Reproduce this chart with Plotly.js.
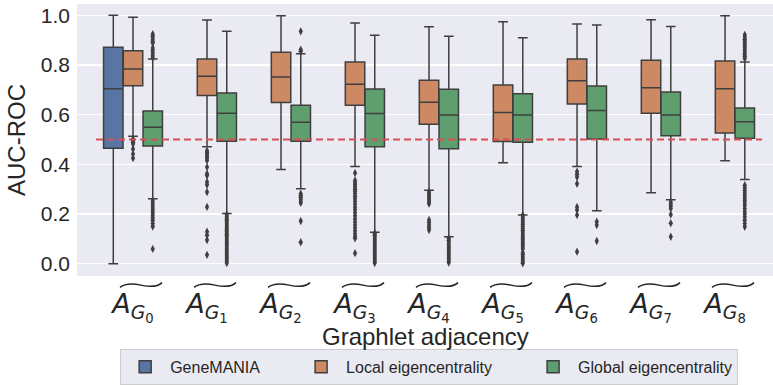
<!DOCTYPE html>
<html><head><meta charset="utf-8">
<script src="https://cdn.plot.ly/plotly-3.0.1.min.js"></script>
<style>body{margin:0;background:#fff;}</style>
</head><body><div id="chart" style="width:773px;height:385px;"></div>
<script>
// ---------------- data ----------------
const categoryIndex = [0, 1, 2, 3, 4, 5, 6, 7, 8];
const tickLabels = [
  '<i>A</i><sub><i>G</i><sub>0</sub></sub>',
  '<i>A</i><sub><i>G</i><sub>1</sub></sub>',
  '<i>A</i><sub><i>G</i><sub>2</sub></sub>',
  '<i>A</i><sub><i>G</i><sub>3</sub></sub>',
  '<i>A</i><sub><i>G</i><sub>4</sub></sub>',
  '<i>A</i><sub><i>G</i><sub>5</sub></sub>',
  '<i>A</i><sub><i>G</i><sub>6</sub></sub>',
  '<i>A</i><sub><i>G</i><sub>7</sub></sub>',
  '<i>A</i><sub><i>G</i><sub>8</sub></sub>'
];
const xTitle = 'Graphlet adjacency';
const yTitle = 'AUC-ROC';
const hueNames = ['GeneMANIA', 'Local eigencentrality', 'Global eigencentrality'];
const baselineAUC = 0.5;

// GeneMANIA (only category 0)
const geneCats = [0];
const geneQ1  = [0.465];
const geneMed = [0.704];
const geneQ3  = [0.871];
const geneLo  = [0.0];
const geneHi  = [1.0];
const geneOut = [[]];

// Local eigencentrality
const localQ1  = [0.716, 0.677, 0.649, 0.638, 0.561, 0.492, 0.643, 0.606, 0.526];
const localMed = [0.784, 0.754, 0.751, 0.722, 0.650, 0.609, 0.736, 0.708, 0.704];
const localQ3  = [0.857, 0.824, 0.851, 0.812, 0.738, 0.719, 0.824, 0.819, 0.816];
const localLo  = [0.513, 0.471, 0.379, 0.391, 0.296, 0.406, 0.391, 0.286, 0.415];
const localHi  = [0.992, 0.981, 0.998, 0.969, 0.953, 0.974, 0.965, 0.982, 0.998];
const localOut = [
  [0.502, 0.495, 0.489, 0.482, 0.462, 0.442, 0.425],
  [0.455, 0.448, 0.440, 0.432, 0.425, 0.416, 0.389, 0.362, 0.355, 0.329, 0.318, 0.289, 0.229, 0.129, 0.115, 0.096, 0.036],
  [],
  [0.365, 0.335, 0.326, 0.318, 0.309, 0.300, 0.291, 0.282, 0.272, 0.262, 0.251, 0.240, 0.228, 0.217, 0.205, 0.193, 0.180, 0.168, 0.156, 0.145, 0.133, 0.121, 0.110, 0.103, 0.043],
  [0.289, 0.281, 0.273, 0.265, 0.257, 0.249, 0.242, 0.176, 0.166, 0.156, 0.146, 0.136],
  [],
  [0.371, 0.360, 0.349, 0.322, 0.229, 0.216, 0.196, 0.049],
  [],
  []
];

// Global eigencentrality
const globalQ1  = [0.474, 0.493, 0.493, 0.471, 0.463, 0.489, 0.502, 0.515, 0.505];
const globalMed = [0.549, 0.606, 0.569, 0.605, 0.599, 0.599, 0.617, 0.599, 0.571];
const globalQ3  = [0.615, 0.687, 0.638, 0.703, 0.702, 0.684, 0.715, 0.691, 0.627];
const globalLo  = [0.262, 0.202, 0.302, 0.127, 0.109, 0.196, 0.213, 0.258, 0.339];
const globalHi  = [0.824, 0.935, 0.845, 0.919, 0.915, 0.909, 0.961, 0.955, 0.812];
const globalOut = [
  [0.924, 0.915, 0.905, 0.895, 0.888, 0.868, 0.859, 0.848, 0.837, 0.828, 0.255, 0.245, 0.235, 0.225, 0.215, 0.205, 0.195, 0.185, 0.175, 0.162, 0.150, 0.060],
  [0.198, 0.190, 0.182, 0.175, 0.168, 0.160, 0.152, 0.145, 0.138, 0.130, 0.122, 0.115, 0.108, 0.100, 0.092, 0.085, 0.078, 0.070, 0.062, 0.055, 0.048, 0.040, 0.032, 0.025, 0.018, 0.010, 0.003],
  [0.935, 0.861, 0.855, 0.282, 0.275, 0.268, 0.260, 0.252, 0.245, 0.172, 0.087],
  [0.123, 0.115, 0.108, 0.100, 0.092, 0.085, 0.077, 0.070, 0.062, 0.055, 0.047, 0.040, 0.032, 0.025, 0.017, 0.010, 0.003],
  [0.103, 0.095, 0.088, 0.080, 0.072, 0.065, 0.057, 0.050, 0.042, 0.035, 0.027, 0.020, 0.012, 0.005],
  [0.196, 0.188, 0.180, 0.172, 0.165, 0.158, 0.150, 0.142, 0.135, 0.128, 0.120, 0.112, 0.105, 0.098, 0.090, 0.082, 0.075, 0.068, 0.060, 0.045, 0.038, 0.030, 0.022, 0.015, 0.008, 0.002],
  [0.169, 0.156, 0.092],
  [0.249, 0.240, 0.232, 0.222, 0.198, 0.163, 0.109],
  [0.921, 0.912, 0.903, 0.895, 0.886, 0.878, 0.869, 0.860, 0.852, 0.843, 0.835, 0.826, 0.316, 0.305, 0.295, 0.285, 0.275, 0.265, 0.255, 0.245, 0.235, 0.222, 0.210, 0.200, 0.188, 0.175, 0.162, 0.149]
];

// ---------------- style ----------------
const hueColors = ['#5875a4', '#cc8963', '#5f9e6e'];
const edgeColor = '#3f3f3f';
const slot = 0.8 / 3;
const hueOffset = [-slot, 0, slot];
const xRange = [-0.757, 8.648];
const yRange = [-0.049, 1.045];
const legendPad = '\u00a0\u00a0\u00a0\u00a0\u00a0\u00a0\u00a0';

const groups = [
  {cats: geneCats, q1: geneQ1, med: geneMed, q3: geneQ3, lo: geneLo, hi: geneHi, out: geneOut},
  {cats: categoryIndex, q1: localQ1, med: localMed, q3: localQ3, lo: localLo, hi: localHi, out: localOut},
  {cats: categoryIndex, q1: globalQ1, med: globalMed, q3: globalQ3, lo: globalLo, hi: globalHi, out: globalOut}
];

const traces = [];
groups.forEach((g, h) => {
  const pos = g.cats.map(c => c + hueOffset[h]);
  traces.push({
    type: 'box', name: hueNames[h] + (h < 2 ? legendPad : ''), legendgroup: hueNames[h],
    x: pos, q1: g.q1, median: g.med, q3: g.q3, lowerfence: g.lo, upperfence: g.hi,
    width: slot * 0.985, whiskerwidth: 0.5, boxpoints: false,
    fillcolor: hueColors[h], line: {color: edgeColor, width: 1.5},
    hoverinfo: 'skip'
  });
  const ox = [], oy = [];
  g.out.forEach((vals, k) => vals.forEach(v => { ox.push(pos[k]); oy.push(v); }));
  traces.push({
    type: 'scatter', mode: 'markers', x: ox, y: oy, showlegend: false,
    legendgroup: hueNames[h],
    marker: {symbol: 'diamond-tall', size: 6, color: edgeColor, line: {width: 0}},
    hoverinfo: 'skip'
  });
});

// tilde accents over tick labels (paper coordinates derived from category positions)
const toPaperX = x => (x - xRange[0]) / (xRange[1] - xRange[0]);
const plotH = 274;
const toPaperY = px => (278 - px) / plotH;
const shapes = [{
  type: 'line', xref: 'x', yref: 'y', x0: -0.5, x1: 8.5, y0: baselineAUC, y1: baselineAUC,
  line: {color: '#d65055', width: 1.8, dash: '7px,4px'}, layer: 'above'
}];
categoryIndex.forEach(c => {
  const cx = c + 0.108, hw = 0.284;
  const L = toPaperX(cx - hw), R = toPaperX(cx + hw), w = R - L;
  const p = (fx, py) => (L + fx * w).toFixed(5) + ',' + toPaperY(py).toFixed(5);
  shapes.push({
    type: 'path', xref: 'paper', yref: 'paper',
    path: 'M' + p(0, 289.5) + ' C' + p(0.12, 285.5) + ' ' + p(0.3, 285.3) + ' ' + p(0.5, 287.2) +
          ' S' + p(0.88, 289.5) + ' ' + p(1, 284.7),
    line: {color: '#262626', width: 1.5}
  });
});

const layout = {
  width: 773, height: 385,
  margin: {l: 77, r: 0, t: 4, b: 107},
  paper_bgcolor: '#ffffff', plot_bgcolor: '#eaeaf2',
  showlegend: true, boxmode: 'overlay',
  font: {family: 'Liberation Sans, Arial, sans-serif', color: '#262626'},
  xaxis: {
    range: xRange, tickmode: 'array', tickvals: categoryIndex, ticktext: tickLabels,
    showgrid: false, zeroline: false, showline: false, ticks: '',
    tickfont: {family: 'DejaVu Sans', size: 27, color: '#262626'},
    ticklabelstandoff: 9,
    automargin: false
  },
  yaxis: {
    range: yRange, tickvals: [0, 0.2, 0.4, 0.6, 0.8, 1.0], ticktext: ['0.0', '0.2', '0.4', '0.6', '0.8', '1.0'],
    showgrid: true, gridcolor: '#ffffff', gridwidth: 1.3, zeroline: false, showline: false, ticks: '',
    tickfont: {size: 21, color: '#262626'}, ticklabelstandoff: 6,
    title: {text: yTitle, font: {size: 24, color: '#262626'}, standoff: 8},
    automargin: false
  },
  annotations: [{
    text: xTitle, xref: 'paper', yref: 'paper', x: 0.5, y: toPaperY(339), xanchor: 'center', yanchor: 'middle',
    showarrow: false, font: {size: 24, color: '#262626'}
  }],
  legend: {
    orientation: 'h', x: 0.506, xanchor: 'center', y: toPaperY(351.5), yanchor: 'top',
    bgcolor: '#eaeaf2', bordercolor: '#cccccc', borderwidth: 1, itemwidth: 40,
    font: {size: 16, color: '#262626'}, itemclick: false
  },
  shapes: shapes
};

Plotly.newPlot('chart', traces, layout, {staticPlot: true, displayModeBar: false});
</script>
</body></html>
